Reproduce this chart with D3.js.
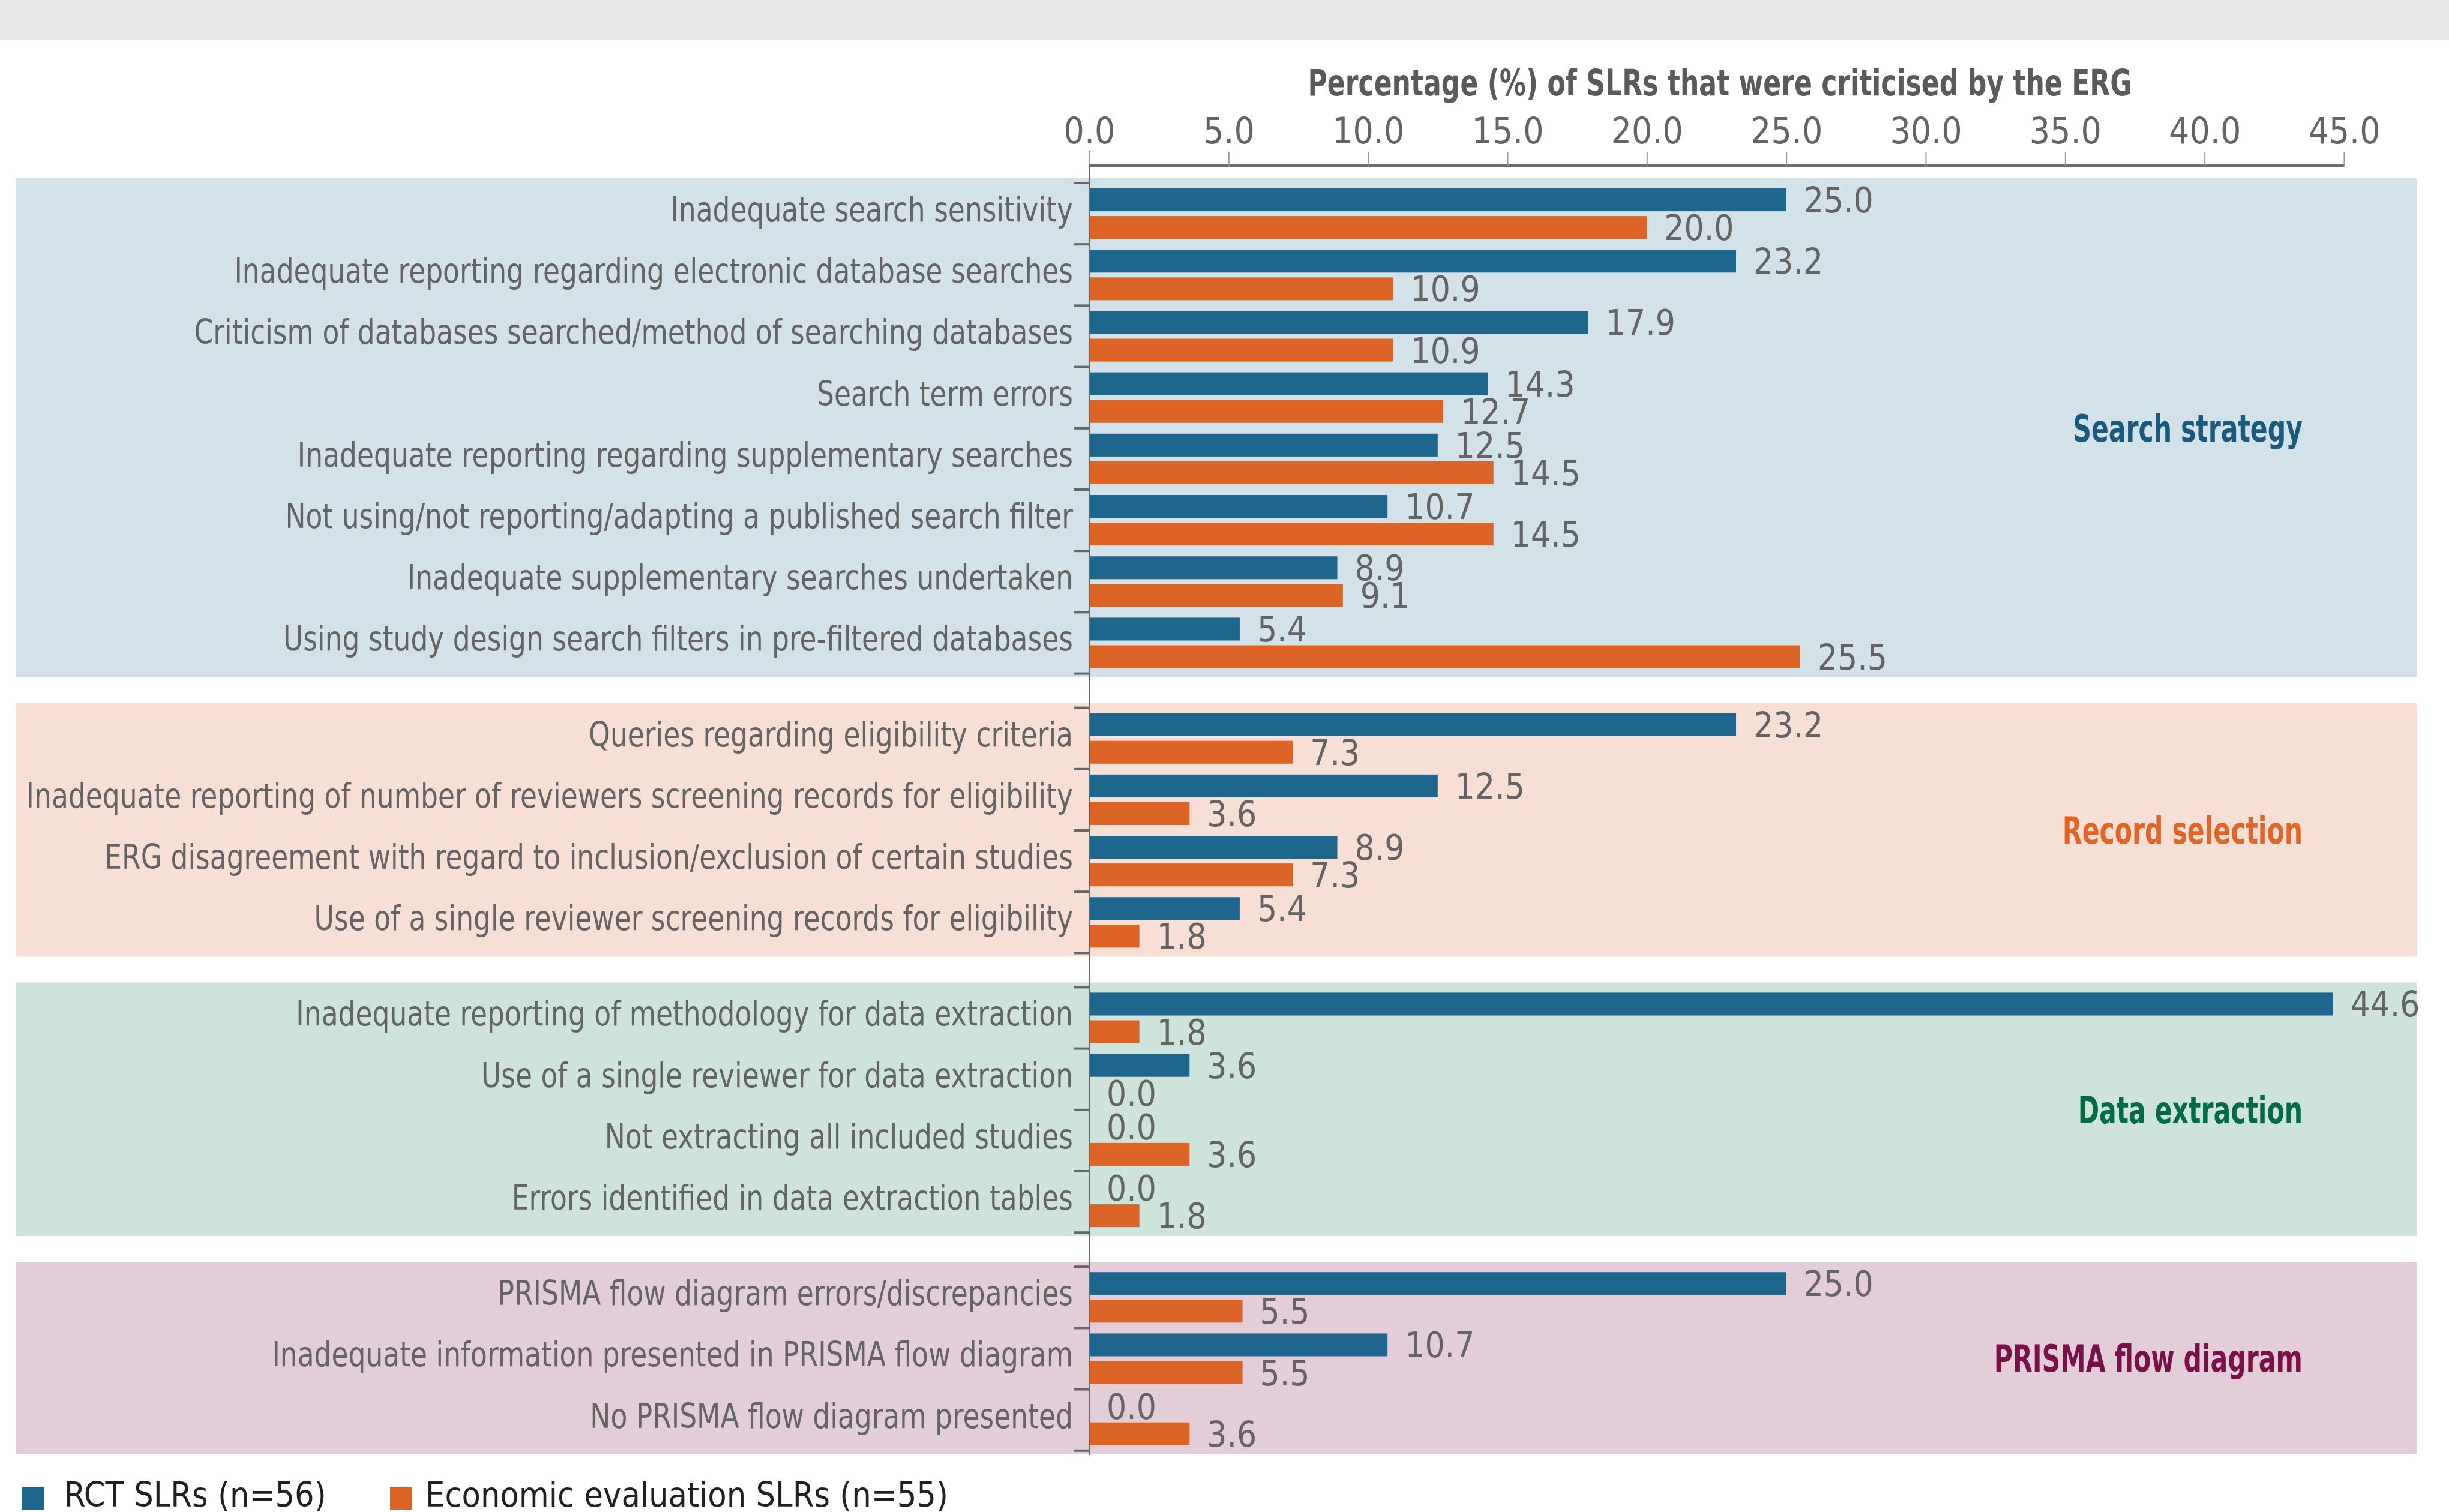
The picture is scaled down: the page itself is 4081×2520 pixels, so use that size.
<!DOCTYPE html>
<html>
<head>
<meta charset="utf-8">
<script src="https://cdn.jsdelivr.net/npm/d3@7"></script>
<style>
  html, body { margin: 0; padding: 0; background: #fff; }
  svg { display: block; }
  text { font-family: "Liberation Sans Narrow", "Arial Narrow", "DejaVu Sans Condensed", sans-serif; }
</style>
</head>
<body>
<div id="chart"></div>
<script>
// Chart data.
const groupNames = ["Search strategy", "Record selection", "Data extraction", "PRISMA flow diagram"];
const categories = [
  "Inadequate search sensitivity",
  "Inadequate reporting regarding electronic database searches",
  "Criticism of databases searched/method of searching databases",
  "Search term errors",
  "Inadequate reporting regarding supplementary searches",
  "Not using/not reporting/adapting a published search filter",
  "Inadequate supplementary searches undertaken",
  "Using study design search filters in pre-filtered databases",
  "Queries regarding eligibility criteria",
  "Inadequate reporting of number of reviewers screening records for eligibility",
  "ERG disagreement with regard to inclusion/exclusion of certain studies",
  "Use of a single reviewer screening records for eligibility",
  "Inadequate reporting of methodology for data extraction",
  "Use of a single reviewer for data extraction",
  "Not extracting all included studies",
  "Errors identified in data extraction tables",
  "PRISMA flow diagram errors/discrepancies",
  "Inadequate information presented in PRISMA flow diagram",
  "No PRISMA flow diagram presented"
];
const categoryGroup = [0, 0, 0, 0, 0, 0, 0, 0, 1, 1, 1, 1, 2, 2, 2, 2, 3, 3, 3];
const rctValues = [25.0, 23.2, 17.9, 14.3, 12.5, 10.7, 8.9, 5.4, 23.2, 12.5, 8.9, 5.4, 44.6, 3.6, 0.0, 0.0, 25.0, 10.7, 0.0];
const econValues = [20.0, 10.9, 10.9, 12.7, 14.5, 14.5, 9.1, 25.5, 7.3, 3.6, 7.3, 1.8, 1.8, 0.0, 3.6, 1.8, 5.5, 5.5, 3.6];
const seriesNames = ["RCT SLRs (n=56)", "Economic evaluation SLRs (n=55)"];
const xTicks = [0, 5, 10, 15, 20, 25, 30, 35, 40, 45];
const axisTitle = "Percentage (%) of SLRs that were criticised by the ERG";

const width = 4081, height = 2520;
const seriesColors = ["#1f668c", "#dc6426"];
const panelColors = ["#d3e1e8", "#f7dfd5", "#cee3dc", "#e3cdd9"];
const titleColors = ["#1b5a7d", "#e0652a", "#006b45", "#7a1048"];
const textGray = "#646464";

const svg = d3.select("#chart").append("svg")
  .attr("width", width)
  .attr("height", height);

// Grey band on top.
svg.append("rect").attr("x", 0).attr("y", 0).attr("width", width).attr("height", 67).attr("fill", "#e6e7e9");

const x = d3.scaleLinear().domain([0, 45]).range([1815, 3906]);

// Vertical layout: one band scale per group.
const step = 102.2, groupGap = 57, firstTop = 305;
const groups = groupNames.map((name, g) => {
  const items = categories.filter((c, i) => categoryGroup[i] === g);
  return { name, g, items };
});
let cursor = firstTop;
groups.forEach(grp => {
  grp.top = cursor;
  grp.bottom = cursor + grp.items.length * step;
  grp.y = d3.scaleBand().domain(grp.items).range([grp.top, grp.bottom]);
  cursor = grp.bottom + groupGap;
});
const inner = d3.scaleBand().domain([0, 1]).range([0, step]).paddingInner(0.174).paddingOuter(0.196);

// Panels.
svg.append("g").selectAll("rect")
  .data(groups)
  .join("rect")
  .attr("x", 26)
  .attr("y", d => d.top - 8)
  .attr("width", 4001)
  .attr("height", d => d.bottom - d.top + 14)
  .attr("fill", d => panelColors[d.g]);

// Rows.
const rows = categories.map((c, i) => {
  const grp = groups[categoryGroup[i]];
  return { name: c, y: grp.y(c), values: [rctValues[i], econValues[i]] };
});

const row = svg.append("g").selectAll("g")
  .data(rows)
  .join("g")
  .attr("transform", d => `translate(0,${d.y})`);

row.selectAll("rect")
  .data(d => d.values.map((v, s) => ({ v, s })))
  .join("rect")
  .attr("x", x(0))
  .attr("y", d => inner(d.s))
  .attr("width", d => x(d.v) - x(0))
  .attr("height", inner.bandwidth())
  .attr("fill", d => seriesColors[d.s]);

row.selectAll("text.value")
  .data(d => d.values.map((v, s) => ({ v, s })))
  .join("text")
  .attr("class", "value")
  .attr("x", d => x(d.v) + 29)
  .attr("y", d => inner(d.s) + inner.bandwidth() + 2)
  .attr("font-size", 58)
  .attr("fill", textGray)
  .text(d => d3.format(".1f")(d.v));

row.append("text")
  .attr("class", "cat")
  .attr("x", 1788)
  .attr("y", step / 2 + 13)
  .attr("text-anchor", "end")
  .attr("font-size", 57)
  .attr("fill", textGray)
  .text(d => d.name);

// Y axis ticks at band boundaries.
const yTicks = groups.flatMap(grp => d3.range(grp.items.length + 1).map(k => grp.top + k * step));
svg.append("g").selectAll("line")
  .data(yTicks)
  .join("line")
  .attr("x1", 1790).attr("x2", x(0))
  .attr("y1", d => d).attr("y2", d => d)
  .attr("stroke", "#666").attr("stroke-width", 4);

// Vertical axis line.
svg.append("line")
  .attr("x1", x(0)).attr("x2", x(0))
  .attr("y1", 251).attr("y2", 2425)
  .attr("stroke", "#666").attr("stroke-width", 2);

// Top axis.
const xAxis = svg.append("g")
  .attr("transform", "translate(0,276)")
  .call(d3.axisTop(x).tickValues(xTicks).tickFormat(d3.format(".1f")).tickSize(23).tickSizeOuter(0).tickPadding(14));
xAxis.select(".domain").attr("stroke", "#6d6e71").attr("stroke-width", 5);
xAxis.selectAll(".tick line").attr("stroke", "#999").attr("stroke-width", 2);
xAxis.selectAll(".tick text")
  .attr("class", "num")
  .attr("font-size", 60)
  .attr("fill", textGray)
  .attr("font-family", null);

svg.append("text")
  .attr("class", "axis-title")
  .attr("x", 2866).attr("y", 159)
  .attr("text-anchor", "middle")
  .attr("font-size", 60)
  .attr("font-weight", "bold")
  .attr("fill", "#5a5a5a")
  .text(axisTitle);

// Group titles.
svg.append("g").selectAll("text")
  .data(groups)
  .join("text")
  .attr("class", "group-title")
  .attr("x", 3837)
  .attr("y", d => (d.top + d.bottom) / 2 + 22)
  .attr("text-anchor", "end")
  .attr("font-size", 62)
  .attr("font-weight", "bold")
  .attr("fill", d => titleColors[d.g])
  .text(d => d.name);

// Legend.
const legendX = [36, 650];
const legendTextDx = [71, 59];
const legend = svg.append("g").selectAll("g")
  .data(seriesNames)
  .join("g")
  .attr("transform", (d, i) => `translate(${legendX[i]},2478)`);
legend.append("rect").attr("width", 37).attr("height", 38).attr("fill", (d, i) => seriesColors[i]);
legend.append("text")
  .attr("class", "legend")
  .attr("x", (d, i) => legendTextDx[i]).attr("y", 33)
  .attr("font-size", 57)
  .attr("fill", "#231f20")
  .text(d => d);

// Squeeze text horizontally to match the condensed face.
let maxW = 0;
svg.selectAll("text.cat").each(function() { maxW = Math.max(maxW, this.getComputedTextLength()); });
const k = Math.min(1, 1745 / maxW);
function squeeze(sel, f) {
  sel.each(function() {
    const tx = +(this.getAttribute("x") || 0);
    this.setAttribute("transform", `translate(${tx * (1 - f)},0) scale(${f},1)`);
  });
}
squeeze(svg.selectAll("text.cat"), k);
squeeze(svg.selectAll("text.axis-title"), k * 0.92);
squeeze(svg.selectAll("text.group-title"), k * 0.86);
</script>
</body>
</html>
